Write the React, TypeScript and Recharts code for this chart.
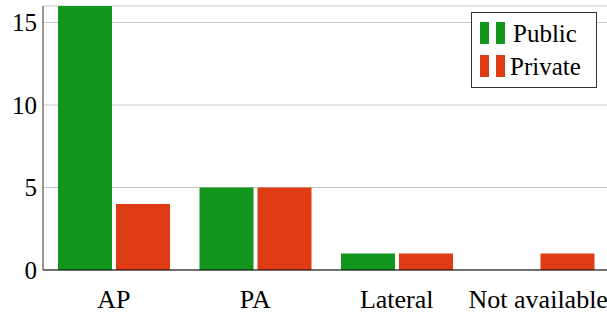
import React from 'react';
import { BarChart, Bar, XAxis, YAxis, CartesianGrid, Legend } from 'recharts';

const categories = ['AP', 'PA', 'Lateral', 'Not available'];
const publicCounts = [16, 5, 1, 0];
const privateCounts = [4, 5, 1, 1];
const yTicks = [0, 5, 10, 15];

const GREEN = '#12961d';
const RED = '#df3b15';
const FONT = '"Liberation Serif", "Times New Roman", serif';

const data = categories.map((name, i) => ({
  name,
  Public: publicCounts[i],
  Private: privateCounts[i]
}));

const legendItems = [
  { label: 'Public', color: GREEN },
  { label: 'Private', color: RED }
];

const LegendBox = () => (
  <div
    style={{
      border: '1px solid #333',
      background: '#fff',
      width: 126,
      height: 76,
      boxSizing: 'border-box',
      padding: '4px 0 0 7px',
      fontFamily: FONT,
      fontSize: 25,
      color: '#000'
    }}
  >
    {legendItems.map((item) => (
      <div key={item.label} style={{ display: 'flex', alignItems: 'center', height: 33 }}>
        <svg width={34} height={23}>
          <rect x={1} y={0} width={9} height={22} fill={item.color} />
          <rect x={17} y={0} width={9} height={22} fill={item.color} />
        </svg>
        <span style={{ lineHeight: '26px', marginLeft: item.label === 'Private' ? -3 : 0 }}>{item.label}</span>
      </div>
    ))}
  </div>
);

const App: React.FC = () => {
  return (
    <div style={{ position: 'absolute', left: 0, top: 0, width: 607, height: 316, overflow: 'hidden', background: '#fff' }}>
      <BarChart
        width={609}
        height={316}
        data={data}
        margin={{ top: 6, right: 0, bottom: 0, left: 0 }}
        barSize={54}
        barGap={4}
      >
        <CartesianGrid vertical={false} stroke="#c8c8c8" strokeWidth={1} />
        <XAxis
          dataKey="name"
          height={46}
          tickLine={false}
          axisLine={{ stroke: '#000', strokeWidth: 1.2 }}
          tickSize={6}
          tickMargin={14}
          interval={0}
          tick={{ fill: '#000', fontSize: 26, fontFamily: FONT }}
        />
        <YAxis
          width={43}
          domain={[0, 16]}
          ticks={yTicks}
          tickLine={false}
          axisLine={{ stroke: '#333', strokeWidth: 1 }}
          tickSize={4}
          tickMargin={2}
          tick={{ fill: '#000', fontSize: 25, fontFamily: FONT }}
        />
        <Legend
          layout="vertical"
          align="center"
          verticalAlign="middle"
          content={<LegendBox />}
          wrapperStyle={{ position: 'absolute', top: 12, left: 471, width: 126, height: 76 }}
        />
        <Bar dataKey="Public" fill={GREEN} isAnimationActive={false} />
        <Bar dataKey="Private" fill={RED} isAnimationActive={false} />
      </BarChart>
    </div>
  );
};

export default App;
